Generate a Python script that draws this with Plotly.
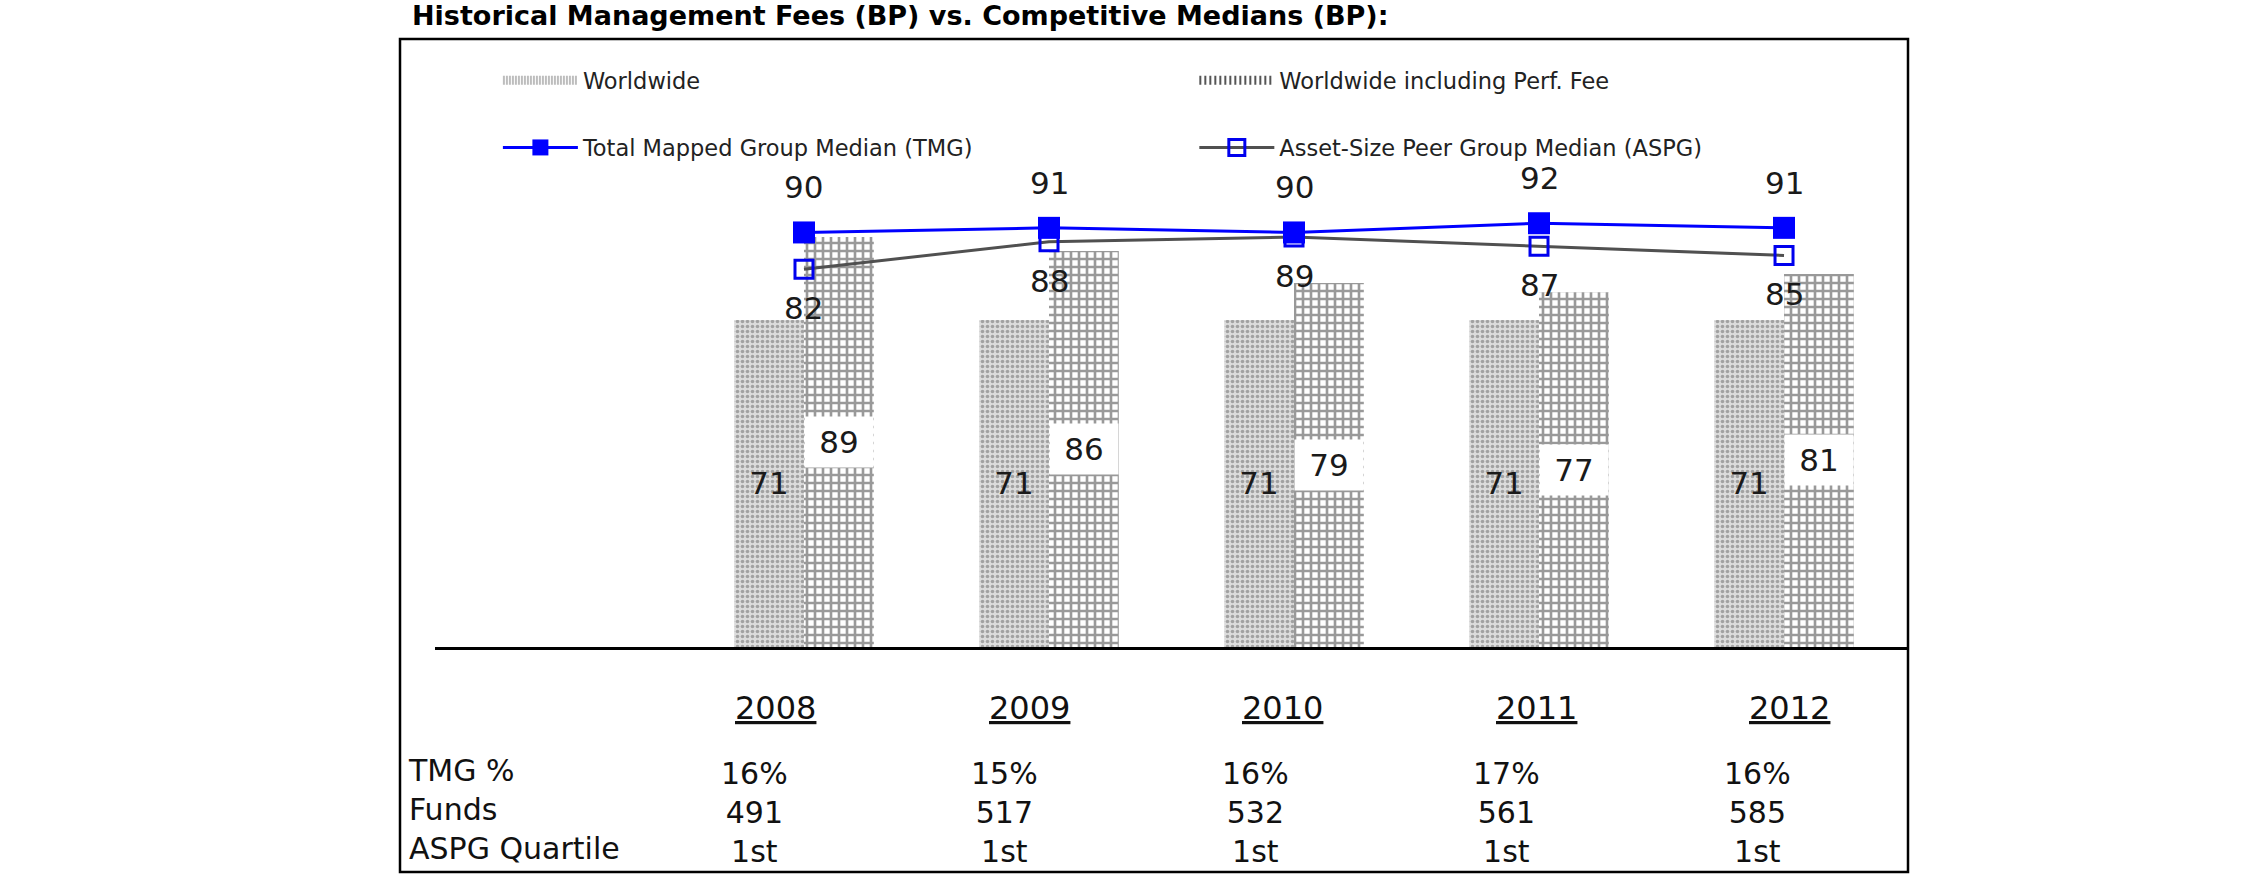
import plotly.graph_objects as go

# ---------------- data ----------------
years = ['2008', '2009', '2010', '2011', '2012']
worldwide = [71, 71, 71, 71, 71]
worldwide_perf = [89, 86, 79, 77, 81]
tmg_median = [90, 91, 90, 92, 91]
aspg_median = [82, 88, 89, 87, 85]
tmg_pct = ['16%', '15%', '16%', '17%', '16%']
funds = [491, 517, 532, 561, 585]
aspg_quartile = ['1st', '1st', '1st', '1st', '1st']
row_labels = ['TMG %', 'Funds', 'ASPG Quartile']

# ---------------- style ----------------
W, H = 2250, 895
FONT = 'DejaVu Sans'
BAR_W = 0.285
idx = list(range(len(years)))
NAME_WW = 'Worldwide'
NAME_WP = 'Worldwide including Perf. Fee'

fig = go.Figure()

fig.add_trace(go.Bar(
    x=idx, y=worldwide, name=NAME_WW, width=BAR_W, offset=-BAR_W,
    marker=dict(color='#d6d6d6', line=dict(width=0),
                pattern=dict(shape='.', fgcolor='#666666', bgcolor='#dcdcdc',
                             size=5, solidity=0.4)),
    text=[str(v) for v in worldwide], textposition='inside',
    insidetextanchor='middle', textangle=0, constraintext='none',
    textfont=dict(family=FONT, size=31, color='#1a1a1a'),
    showlegend=False, hoverinfo='skip'))

fig.add_trace(go.Bar(
    x=idx, y=worldwide_perf, name=NAME_WP,
    width=BAR_W, offset=0,
    marker=dict(color='#444444', line=dict(width=0),
                pattern=dict(shape='+', fgcolor='#333333', bgcolor='white',
                             size=8, solidity=0.55)),
    showlegend=False, hoverinfo='skip'))

# legend swatches for the two bar series (wide hatched strips as in the original)
fig.add_trace(go.Scatter(
    x=[None], y=[None], name=NAME_WW, mode='lines',
    line=dict(color='#bdbdbd', width=9, dash='2px,1px'),
    legend='legend', legendgroup='ww', hoverinfo='skip'))
fig.add_trace(go.Scatter(
    x=[None], y=[None], name=NAME_WP, mode='lines',
    line=dict(color='#555555', width=9, dash='2px,3px'),
    legend='legend2', legendgroup='wp', hoverinfo='skip'))

fig.add_trace(go.Scatter(
    x=idx, y=aspg_median, name='Asset-Size Peer Group Median (ASPG)',
    mode='lines+markers',
    line=dict(color='#505050', width=3),
    marker=dict(symbol='square-open', size=18, color='#0000ee',
                line=dict(width=3, color='#0000ee')),
    legend='legend2', legendgroup='aspg', hoverinfo='skip'))

fig.add_trace(go.Scatter(
    x=idx, y=tmg_median, name='Total Mapped Group Median (TMG)',
    mode='lines+markers',
    line=dict(color='#0000ff', width=3),
    marker=dict(symbol='square', size=22, color='#0000ff'),
    legend='legend', legendgroup='tmg', hoverinfo='skip'))

ann = []
lab_font = dict(family=FONT, size=31, color='#1a1a1a')
for i, v in zip(idx, tmg_median):
    ann.append(dict(x=i, y=v, xref='x', yref='y', text=str(v), showarrow=False,
                    xanchor='center', yanchor='middle', yshift=45, font=lab_font))
for i, v in zip(idx, aspg_median):
    ann.append(dict(x=i, y=v, xref='x', yref='y', text=str(v), showarrow=False,
                    xanchor='center', yanchor='middle', yshift=-39, font=lab_font))
for i, v in zip(idx, worldwide_perf):
    ann.append(dict(x=i + BAR_W / 2, y=v / 2, xref='x', yref='y', text=str(v),
                    showarrow=False, xanchor='center', yanchor='middle',
                    bgcolor='white', width=66, height=48, borderpad=1,
                    font=lab_font))
for i, yr in zip(idx, years):
    ann.append(dict(x=i, y=-0.1003, xref='x2', yref='paper', text='<u>' + yr + '</u>',
                    showarrow=False, xanchor='center', yanchor='middle',
                    font=dict(family=FONT, size=32, color='#111111')))
for i in idx:
    txt = '%s<br>%s<br>%s' % (tmg_pct[i], funds[i], aspg_quartile[i])
    ann.append(dict(x=i, y=-0.273, xref='x3', yref='paper', text=txt,
                    showarrow=False, xanchor='center', yanchor='middle', align='center',
                    font=dict(family=FONT, size=30, color='#111111')))
ann.append(dict(x=-0.0197, y=-0.268, xref='paper', yref='paper',
                text='<br>'.join(row_labels), showarrow=False, xanchor='left',
                yanchor='middle', align='left',
                font=dict(family=FONT, size=30, color='#111111')))

hidden = dict(showline=False, showticklabels=False, ticks='', showgrid=False,
              zeroline=False, fixedrange=True)

legend_common = dict(xanchor='left', y=0.967, yanchor='top',
                     font=dict(family=FONT, size=22.5, color='#222222'),
                     bgcolor='rgba(0,0,0,0)', tracegroupgap=35, itemwidth=75,
                     traceorder='grouped')

fig.update_layout(
    width=W, height=H,
    margin=dict(l=435, r=342, t=39, b=248, autoexpand=False),
    paper_bgcolor='white', plot_bgcolor='white',
    showlegend=True,
    title=dict(text='Historical Management Fees (BP) vs. Competitive Medians (BP):',
               x=412 / W, xanchor='left', xref='container',
               y=1 - 16 / H, yanchor='middle', yref='container',
               font=dict(family=FONT, size=27, color='black', weight='bold')),
    xaxis=dict(range=[-1.506, 4.506], showline=True, linecolor='black', linewidth=2.5,
               showticklabels=False, ticks='', showgrid=False, zeroline=False,
               fixedrange=True),
    xaxis2=dict(range=[-1.345, 4.4655], overlaying='x', anchor='y', **hidden),
    xaxis3=dict(range=[-1.271, 4.598], overlaying='x', anchor='y', **hidden),
    yaxis=dict(range=[0, 132], **hidden),
    legend=dict(x=0.0427, **legend_common),
    legend2=dict(x=0.5155, **legend_common),
    annotations=ann,
    shapes=[dict(type='rect', xref='paper', yref='paper', x0=-0.02376, x1=1.0,
                 y0=-0.3701, y1=1.0, line=dict(color='black', width=2.5),
                 fillcolor='rgba(0,0,0,0)', layer='above')],
)

fig.write_html('out.html')
